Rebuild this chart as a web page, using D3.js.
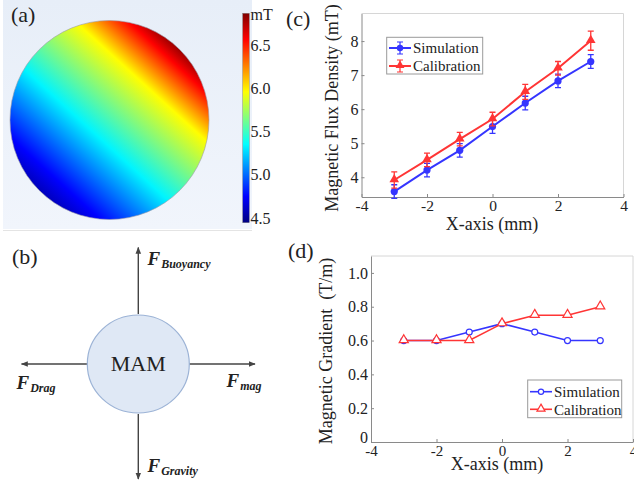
<!DOCTYPE html>
<html>
<head>
<meta charset="utf-8">
<script src="https://cdn.jsdelivr.net/npm/d3@7"></script>
<style>
  body { margin: 0; background: #fff; }
  svg { display: block; font-family: "Liberation Serif", "Times New Roman", serif; }
</style>
</head>
<body>
<div id="chart"></div>
<script>
// ---- data ----
var xPos = [-3, -2, -1, 0, 1, 2, 3];
var xTicks = [-4, -2, 0, 2, 4];

// (c) flux density, mT
var simFlux = [3.58, 4.21, 4.79, 5.49, 6.18, 6.83, 7.40];
var simFluxErr = [0.2, 0.2, 0.2, 0.2, 0.2, 0.2, 0.2];
var calFlux = [3.92, 4.51, 5.12, 5.71, 6.51, 7.20, 8.01];
var calFluxErr = [0.24, 0.2, 0.2, 0.2, 0.22, 0.2, 0.28];
var fluxTicks = [4, 5, 6, 7, 8];

// (d) gradient, T/m
var simGrad = [0.6, 0.6, 0.65, 0.7, 0.65, 0.6, 0.6];
var calGrad = [0.6, 0.6, 0.6, 0.7, 0.75, 0.75, 0.8];
var gradTicks = [0, 0.2, 0.4, 0.6, 0.8, 1.0];

// (a) field map: colorbar range and profile across the disc (bottom-left -> top-right)
var cbRange = [4.446, 6.866];
var cbTicks = [4.5, 5.0, 5.5, 6.0, 6.5];
var fieldPos = [0, 0.1, 0.4, 0.75, 0.93, 1];
var fieldVal = [4.59, 4.75, 5.33, 5.96, 6.56, 6.8];

// (b) force labels
var forceNames = ["Buoyancy", "Drag", "mag", "Gravity"];

var series = ["Simulation", "Calibration"];
var blue = "#3535ff";
var red = "#ff3535";

var svg = d3.select("#chart").append("svg")
  .attr("width", 634)
  .attr("height", 485);
var defs = svg.append("defs");

// jet colormap
var jet = d3.scaleLinear()
  .domain([0, 0.125, 0.375, 0.625, 0.875, 1].map(function (t) {
    return cbRange[0] + t * (cbRange[1] - cbRange[0]);
  }))
  .range(["#000080", "#0000ff", "#00ffff", "#ffff00", "#ff0000", "#800000"]);

// ================= panel (a) =================
var bg = defs.append("linearGradient").attr("id", "bgA")
  .attr("x1", 0).attr("y1", 0).attr("x2", 0).attr("y2", 1);
bg.append("stop").attr("offset", 0).attr("stop-color", "#e7eef8");
bg.append("stop").attr("offset", 1).attr("stop-color", "#f1f5fc");
svg.append("rect").attr("x", 3).attr("y", 0).attr("width", 249).attr("height", 229)
  .attr("fill", "url(#bgA)");
svg.append("line").attr("x1", 3).attr("x2", 252).attr("y1", 230.5).attr("y2", 230.5)
  .attr("stroke", "#e4e4e4");

var cx = 109.5, cy = 120, r = 99.5;
var dir = [0.674, -0.739];
var disc = defs.append("linearGradient").attr("id", "disc")
  .attr("gradientUnits", "userSpaceOnUse")
  .attr("x1", cx - r * dir[0]).attr("y1", cy - r * dir[1])
  .attr("x2", cx + r * dir[0]).attr("y2", cy + r * dir[1]);
disc.selectAll("stop").data(fieldPos).enter().append("stop")
  .attr("offset", function (d) { return d; })
  .attr("stop-color", function (d, i) { return jet(fieldVal[i]); });
svg.append("circle").attr("cx", cx).attr("cy", cy).attr("r", r)
  .attr("fill", "url(#disc)").attr("stroke", "#9a9aa8").attr("stroke-width", 0.6);

// colorbar
var cbY = d3.scaleLinear().domain(cbRange).range([222.7, 13.3]);
var cbGrad = defs.append("linearGradient").attr("id", "cb")
  .attr("x1", 0).attr("y1", 1).attr("x2", 0).attr("y2", 0);
cbGrad.selectAll("stop").data(jet.domain()).enter().append("stop")
  .attr("offset", function (d) { return (d - cbRange[0]) / (cbRange[1] - cbRange[0]); })
  .attr("stop-color", function (d) { return jet(d); });
svg.append("rect").attr("x", 242.7).attr("y", cbY(cbRange[1]))
  .attr("width", 6.6).attr("height", cbY(cbRange[0]) - cbY(cbRange[1]))
  .attr("fill", "url(#cb)").attr("stroke", "#777").attr("stroke-width", 0.4);
svg.selectAll(".cbt").data(cbTicks).enter().append("text")
  .attr("x", 250.5).attr("y", function (d) { return cbY(d); })
  .attr("dy", "0.35em").attr("font-size", 16).attr("fill", "#222")
  .text(function (d) { return d3.format(".1f")(d); });
svg.append("text").attr("x", 250.5).attr("y", 20).attr("font-size", 16)
  .attr("fill", "#222").text("mT");

// ================= panel (b) =================
var mx = 138.3, my = 364, mr = 50;
defs.append("marker").attr("id", "arr")
  .attr("viewBox", "0 0 10 10").attr("refX", 9).attr("refY", 5)
  .attr("markerWidth", 5).attr("markerHeight", 5).attr("orient", "auto")
  .append("path").attr("d", "M0,1 L10,5 L0,9 Z").attr("fill", "#444");
var arrows = [
  [mx, my - mr, mx, 247.5],
  [mx - mr, my, 21.5, my],
  [mx + mr, my, 255, my],
  [mx, my + mr, mx, 479]
];
svg.selectAll(".arr").data(arrows).enter().append("line")
  .attr("x1", function (d) { return d[0]; }).attr("y1", function (d) { return d[1]; })
  .attr("x2", function (d) { return d[2]; }).attr("y2", function (d) { return d[3]; })
  .attr("stroke", "#444").attr("stroke-width", 1.4)
  .attr("marker-end", "url(#arr)");
svg.append("ellipse").attr("cx", mx).attr("cy", my).attr("rx", 51).attr("ry", 49)
  .attr("fill", "#dfe8f5").attr("stroke", "#9cb3d6").attr("stroke-width", 1.2);
svg.append("text").attr("x", mx).attr("y", 371).attr("text-anchor", "middle")
  .attr("font-size", 22).attr("fill", "#222").text("MAM");

var forcePos = [[147.5, 265], [16.5, 388.5], [226.5, 387], [147.5, 472]];
forceNames.forEach(function (name, i) {
  var t = svg.append("text").attr("x", forcePos[i][0]).attr("y", forcePos[i][1])
    .attr("font-weight", "bold").attr("font-style", "italic").attr("fill", "#222");
  t.append("tspan").attr("font-size", 19).text("F");
  t.append("tspan").attr("font-size", 12).attr("dy", 3).attr("dx", 1).text(name);
});

// ================= panel (c) =================
var xC = d3.scaleLinear().domain([-4, 4]).range([361.5, 623.5]);
var yC = d3.scaleLinear().domain([3.42, 8.81]).range([197, 13.5]);
var plainFmt = function (d) { return String(d); };

function frame(xs, ys) {
  svg.append("line").attr("x1", xs.range()[0]).attr("x2", xs.range()[1])
    .attr("y1", ys.range()[1]).attr("y2", ys.range()[1]).attr("stroke", "#d6d6d6");
  svg.append("line").attr("x1", xs.range()[1]).attr("x2", xs.range()[1])
    .attr("y1", ys.range()[0]).attr("y2", ys.range()[1]).attr("stroke", "#d6d6d6");
}
function styleAxis(g) {
  g.attr("font-family", null);
  g.select(".domain").attr("stroke", "#8a8a8a");
  g.selectAll(".tick line").attr("stroke", "#8a8a8a");
  g.selectAll(".tick text").attr("font-size", 16).attr("fill", "#222");
}

frame(xC, yC);
svg.append("g").attr("transform", "translate(0," + yC.range()[0] + ")")
  .call(d3.axisBottom(xC).tickValues(xTicks).tickFormat(plainFmt)
    .tickSizeInner(-3).tickSizeOuter(0).tickPadding(3))
  .call(styleAxis)
  .selectAll(".tick text").attr("font-size", 15.5);
svg.append("g").attr("transform", "translate(" + xC.range()[0] + ",0)")
  .call(d3.axisLeft(yC).tickValues(fluxTicks).tickFormat(plainFmt)
    .tickSizeInner(-3).tickSizeOuter(0).tickPadding(3))
  .call(styleAxis);

svg.append("text").attr("transform", "translate(338,108) rotate(-90)")
  .attr("text-anchor", "middle").attr("font-size", 18).attr("fill", "#222")
  .text("Magnetic Flux Density (mT)");
svg.append("text").attr("x", 492).attr("y", 230).attr("text-anchor", "middle")
  .attr("font-size", 18).attr("fill", "#222").text("X-axis (mm)");

var tri = d3.symbol().type(d3.symbolTriangle);

function errSeries(vals, errs, color, kind) {
  var g = svg.append("g");
  g.append("path").datum(vals)
    .attr("d", d3.line().x(function (d, i) { return xC(xPos[i]); }).y(function (d) { return yC(d); }))
    .attr("fill", "none").attr("stroke", color).attr("stroke-width", 2);
  vals.forEach(function (v, i) {
    var x = xC(xPos[i]), y0 = yC(v - errs[i]), y1 = yC(v + errs[i]);
    g.append("path")
      .attr("d", "M" + x + "," + y0 + "V" + y1 + "M" + (x - 3) + "," + y0 + "H" + (x + 3) +
        "M" + (x - 3) + "," + y1 + "H" + (x + 3))
      .attr("stroke", color).attr("stroke-width", 1.3).attr("fill", "none");
    if (kind === "circle") {
      g.append("circle").attr("cx", x).attr("cy", yC(v)).attr("r", 3.6).attr("fill", color);
    } else {
      g.append("path").attr("d", tri.size(40)()).attr("transform", "translate(" + x + "," + (yC(v) - 0.5) + ")")
        .attr("fill", color);
    }
  });
}
errSeries(simFlux, simFluxErr, blue, "circle");
errSeries(calFlux, calFluxErr, red, "tri");

// legend (c)
svg.append("rect").attr("x", 386.7).attr("y", 37.3).attr("width", 96).attr("height", 36.7)
  .attr("fill", "#fff").attr("stroke", "#9a9a9a");
series.forEach(function (name, i) {
  var y = 48 + i * 18, color = i === 0 ? blue : red;
  svg.append("line").attr("x1", 389).attr("x2", 411).attr("y1", y).attr("y2", y)
    .attr("stroke", color).attr("stroke-width", 2);
  svg.append("path").attr("d", "M400," + (y - 6) + "V" + (y + 6) + "M397," + (y - 6) + "H403M397," + (y + 6) + "H403")
    .attr("stroke", color).attr("stroke-width", 1.2).attr("fill", "none");
  if (i === 0) svg.append("circle").attr("cx", 400).attr("cy", y).attr("r", 3.2).attr("fill", color);
  else svg.append("path").attr("d", tri.size(34)()).attr("transform", "translate(400," + (y - 0.5) + ")").attr("fill", color);
  svg.append("text").attr("x", 413).attr("y", y).attr("dy", "0.35em").attr("font-size", 15)
    .attr("fill", "#222").text(name);
});

// ================= panel (d) =================
var xD = d3.scaleLinear().domain([-4, 4]).range([371, 633]);
var yD = d3.scaleLinear().domain([0, 1.1]).range([442, 256]);

frame(xD, yD);
svg.append("g").attr("transform", "translate(0," + yD.range()[0] + ")")
  .call(d3.axisBottom(xD).tickValues(xTicks).tickFormat(plainFmt)
    .tickSizeInner(-3).tickSizeOuter(0).tickPadding(3))
  .call(styleAxis)
  .selectAll(".tick text").attr("font-size", 15);
svg.append("g").attr("transform", "translate(" + xD.range()[0] + ",0)")
  .call(d3.axisLeft(yD).tickValues(gradTicks).tickSizeInner(-3).tickSizeOuter(0).tickPadding(3)
    .tickFormat(function (d) { return d === 0 ? "0" : d3.format(".1f")(d); }))
  .call(styleAxis)
  .selectAll(".tick text").attr("dy", function (d) { return d === 0 ? "0.05em" : "0.32em"; });

svg.append("text").attr("transform", "translate(332,351) rotate(-90)")
  .attr("text-anchor", "middle").attr("font-size", 18).attr("fill", "#222")
  .style("white-space", "pre")
  .text("Magnetic Gradient  (T/m)");
svg.append("text").attr("x", 497).attr("y", 470).attr("text-anchor", "middle")
  .attr("font-size", 18).attr("fill", "#222").text("X-axis (mm)");

function plainSeries(vals, color, kind) {
  var g = svg.append("g");
  g.append("path").datum(vals)
    .attr("d", d3.line().x(function (d, i) { return xD(xPos[i]); }).y(function (d) { return yD(d); }))
    .attr("fill", "none").attr("stroke", color).attr("stroke-width", 1.6);
  vals.forEach(function (v, i) {
    if (kind === "circle") {
      g.append("circle").attr("cx", xD(xPos[i])).attr("cy", yD(v)).attr("r", 3)
        .attr("fill", "#fff").attr("stroke", color).attr("stroke-width", 1.2);
    } else {
      g.append("path").attr("d", tri.size(36)())
        .attr("transform", "translate(" + xD(xPos[i]) + "," + (yD(v) - 0.5) + ")")
        .attr("fill", "#fff").attr("stroke", color).attr("stroke-width", 1.2);
    }
  });
}
plainSeries(simGrad, blue, "circle");
plainSeries(calGrad, red, "tri");

// legend (d)
svg.append("rect").attr("x", 527.7).attr("y", 380).attr("width", 94).attr("height", 37.7)
  .attr("fill", "#fff").attr("stroke", "#9a9a9a");
series.forEach(function (name, i) {
  var y = 391.7 + i * 17.6, color = i === 0 ? blue : red;
  svg.append("line").attr("x1", 530).attr("x2", 552).attr("y1", y).attr("y2", y)
    .attr("stroke", color).attr("stroke-width", 1.6);
  if (i === 0) svg.append("circle").attr("cx", 541).attr("cy", y).attr("r", 2.6)
    .attr("fill", "#fff").attr("stroke", color).attr("stroke-width", 1.2);
  else svg.append("path").attr("d", tri.size(28)()).attr("transform", "translate(541," + (y - 0.5) + ")")
    .attr("fill", "#fff").attr("stroke", color).attr("stroke-width", 1.2);
  svg.append("text").attr("x", 554).attr("y", y).attr("dy", "0.35em").attr("font-size", 15)
    .attr("fill", "#222").text(name);
});

// panel letters
var letters = [["(a)", 11, 22], ["(b)", 12, 264], ["(c)", 286, 26], ["(d)", 288, 258]];
svg.selectAll(".lbl").data(letters).enter().append("text")
  .attr("x", function (d) { return d[1]; }).attr("y", function (d) { return d[2]; })
  .attr("font-size", 22).attr("fill", "#222")
  .text(function (d) { return d[0]; });
</script>
</body>
</html>
